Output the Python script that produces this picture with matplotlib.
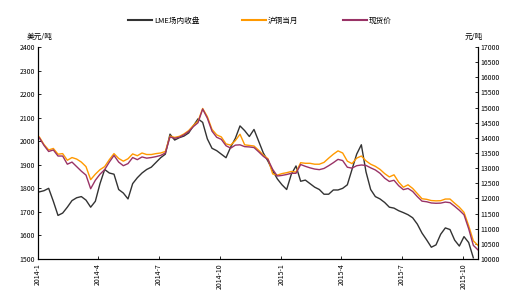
import matplotlib
matplotlib.use("Agg")
import matplotlib.pyplot as plt
import numpy as np
import pandas as pd
from matplotlib.lines import Line2D

plt.rcParams['font.family'] = ['Noto Sans CJK SC', 'DejaVu Sans']

# weekly observation dates (Fridays)
dates = pd.date_range('2014-01-03', periods=95, freq='7D')

lme_close = [1785, 1790, 1800, 1745, 1685, 1695, 1720, 1748, 1760, 1765,
             1750, 1720, 1745, 1820, 1880, 1865, 1860, 1795, 1780, 1755,
             1820, 1845, 1865, 1880, 1890, 1910, 1930, 1945, 2030, 2005,
             2015, 2022, 2035, 2065, 2095, 2080, 2010, 1970, 1960, 1945,
             1930, 1975, 2012, 2065, 2045, 2020, 2050, 2000, 1950, 1915,
             1875, 1840, 1815, 1795, 1860, 1895, 1830, 1835, 1820, 1805,
             1795, 1775, 1775, 1793, 1793, 1800, 1815, 1880, 1945, 1985,
             1870, 1795, 1765, 1755, 1740, 1720, 1716, 1705, 1697, 1688,
             1675, 1648, 1610, 1581, 1550, 1560, 1605, 1632, 1625, 1580,
             1555, 1595, 1570, 1505, np.nan]

shfe_front = [14030, 13780, 13600, 13650, 13460, 13480, 13260, 13350, 13300, 13200,
              13050, 12620, 12800, 12950, 13050, 13280, 13480, 13320, 13230, 13310,
              13470, 13410, 13500, 13450, 13450, 13480, 13500, 13550, 14060, 14015,
              14050, 14130, 14240, 14410, 14550, 14970, 14700, 14280, 14100, 14030,
              13800, 13760, 13910, 14120, 13770, 13750, 13730, 13590, 13430, 13310,
              12810, 12770, 12820, 12850, 12890, 12870, 13180, 13160, 13160, 13130,
              13130, 13190, 13330, 13460, 13570, 13500, 13230, 13150, 13330, 13400,
              13240, 13130, 13060, 12960, 12820, 12710, 12780, 12540, 12370, 12450,
              12330, 12160, 11990, 11970, 11930, 11920, 11925, 11980, 11980, 11840,
              11710, 11540, 11100, 10600, 10450]

spot_price = [14000, 13750, 13550, 13600, 13400, 13400, 13130, 13200, 13050, 12900,
              12770, 12320, 12600, 12800, 12950, 13200, 13420, 13200, 13080, 13150,
              13350, 13280, 13370, 13330, 13350, 13380, 13420, 13500, 14030, 13985,
              14020, 14100, 14210, 14370, 14500, 14950, 14650, 14220, 14020, 13950,
              13740, 13660, 13760, 13770, 13710, 13700, 13680, 13540, 13390, 13280,
              12960, 12740, 12760, 12790, 12830, 12830, 13120, 13060, 13010, 12970,
              12950, 12990, 13080, 13180, 13290, 13250, 13030, 13000, 13080, 13104,
              13090, 13010, 12940, 12830, 12670, 12560, 12600, 12420, 12290, 12330,
              12230, 12060, 11910, 11890, 11850, 11840, 11845, 11880, 11860, 11740,
              11610, 11460, 11000, 10450, 10300]

tick_dates = ['2014-01-01', '2014-04-01', '2014-07-01', '2014-10-01',
              '2015-01-01', '2015-04-01', '2015-07-01', '2015-10-01']
tick_labels = ['2014-1', '2014-4', '2014-7', '2014-10',
               '2015-1', '2015-4', '2015-7', '2015-10']

series_names = ['LME场内收盘', '沪铜当月', '现货价']
colors = ['#333333', '#FF9900', '#993366']

fig = plt.figure(figsize=(5.05, 2.95), dpi=100)
ax = fig.add_axes([38 / 505, 1 - 259 / 295, 440 / 505, 212 / 295])
ax2 = ax.twinx()

ax.plot(dates, lme_close, color=colors[0], lw=1.0)
ax2.plot(dates, shfe_front, color=colors[1], lw=1.0)
ax2.plot(dates, spot_price, color=colors[2], lw=1.0)

ax.set_xlim(pd.Timestamp('2014-01-01'), pd.Timestamp('2015-10-23'))
ax.set_ylim(1500, 2400)
ax2.set_ylim(10000, 17000)
ax.set_yticks(np.arange(1500, 2401, 100))
ax2.set_yticks(np.arange(10000, 17001, 500))
ax.set_xticks(pd.to_datetime(tick_dates))
ax.set_xticklabels(tick_labels, rotation=90, fontsize=5)

for a in (ax, ax2):
    a.spines['top'].set_visible(False)
    for s in a.spines.values():
        s.set_linewidth(0.8)
        s.set_color('black')
    a.tick_params(direction='in', length=2, width=0.6, labelsize=5, pad=2)
ax.tick_params(axis='x', pad=3)

fig.text(40 / 505, 1 - 37 / 295, '美元/吨', ha='center', va='center', fontsize=5.5)
fig.text(474 / 505, 1 - 37 / 295, '元/吨', ha='center', va='center', fontsize=5.5)

legend_x = [128, 242, 343]
for name, c, lx in zip(series_names, colors, legend_x):
    fig.legend([Line2D([0], [0], color=c, lw=1.5)], [name], loc='center left',
               bbox_to_anchor=(lx / 505, 1 - 21 / 295), frameon=False, fontsize=5.5,
               handlelength=3.2, handletextpad=0.2, borderpad=0, borderaxespad=0)

fig.savefig('out.png', dpi=100)
